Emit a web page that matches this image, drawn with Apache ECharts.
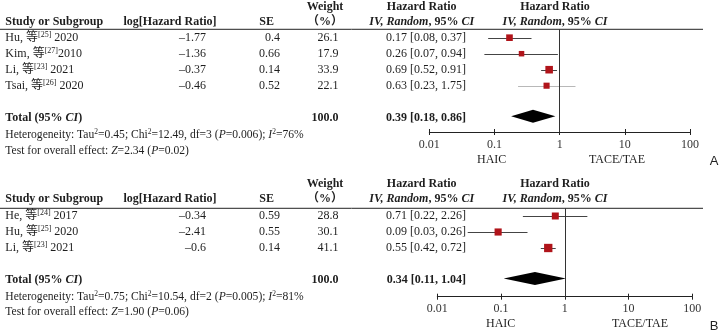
<!DOCTYPE html>
<html><head><meta charset="utf-8">
<script src="https://cdn.jsdelivr.net/npm/echarts@6/dist/echarts.min.js"></script>
<style>html,body{margin:0;padding:0;background:#fff}#c{width:719px;height:335px}</style>
</head><body><div id="c"></div>
<script>
// ---------- Panel A data ----------
const authorsA = ['Hu', 'Kim', 'Li', 'Tsai'];
const refsA = ['25', '27', '23', '26'];
const yearsA = ['2020', '2010', '2021', '2020'];
const logHRA = [-1.77, -1.36, -0.37, -0.46];
const seA = ['0.4', '0.66', '0.14', '0.52'];
const weightA = [26.1, 17.9, 33.9, 22.1];
const hrA = [0.17, 0.26, 0.69, 0.63];
const loA = [0.08, 0.07, 0.52, 0.23];
const hiA = [0.37, 0.94, 0.91, 1.75];
const totalA = [0.39, 0.18, 0.86];
const hetA = ['0.45', '12.49', '3', '0.006', '76'];
const testA = ['2.34', '0.02'];
// ---------- Panel B data ----------
const authorsB = ['He', 'Hu', 'Li'];
const refsB = ['24', '25', '23'];
const yearsB = ['2017', '2020', '2021'];
const logHRB = [-0.34, -2.41, -0.6];
const seB = ['0.59', '0.55', '0.14'];
const weightB = [28.8, 30.1, 41.1];
const hrB = [0.71, 0.09, 0.55];
const loB = [0.22, 0.03, 0.42];
const hiB = [2.26, 0.26, 0.72];
const totalB = [0.34, 0.11, 1.04];
const hetB = ['0.75', '10.54', '2', '0.005', '81'];
const testB = ['1.90', '0.06'];
// ---------- shared ----------
const tickLabels = ['0.01', '0.1', '1', '10', '100'];
const favours = ['HAIC', 'TACE/TAE'];
const panelLetters = ['A', 'B'];

const SERIF = '"Liberation Serif","Times New Roman","Noto Sans CJK SC",serif';
const TXT = '#1e1e1e';
const RED = '#b0141a';

const panels = [
  { letter: panelLetters[0], authors: authorsA, refs: refsA, years: yearsA, logHR: logHRA, se: seA, weight: weightA,
    hr: hrA, lo: loA, hi: hiA, total: totalA, het: hetA, test: testA, greyRows: [3],
    L: { gridL: 429.3, gridR: 690, lineY: 29.3, axisY: 132, row0: 37.7, h1: 6.7, h2: 21.7, het: 135, test: 150.7,
         fav: 160, favX: [491.7, 617], labMargin: 7, letterY: 161 } },
  { letter: panelLetters[1], authors: authorsB, refs: refsB, years: yearsB, logHR: logHRB, se: seB, weight: weightB,
    hr: hrB, lo: loB, hi: hiB, total: totalB, het: hetB, test: testB, greyRows: [],
    L: { gridL: 437.3, gridR: 692.3, lineY: 208.3, axisY: 296.7, row0: 216, h1: 184.3, h2: 199.3, het: 296.7, test: 312.3,
         fav: 324.3, favX: [500.7, 640], labMargin: 6.5, letterY: 326.7 } }
];
const ROWH = 16;

const richBase = {
  sup: { fontSize: 8, fontFamily: SERIF, verticalAlign: 'top', lineHeight: 9, fill: TXT },
  n: { fontSize: 12, fontFamily: SERIF, lineHeight: 14, fill: TXT },
  i: { fontSize: 12, fontFamily: SERIF, fontStyle: 'italic', lineHeight: 14, fill: TXT },
  b: { fontSize: 12, fontFamily: SERIF, fontWeight: 'bold', lineHeight: 14, fill: TXT },
  bi: { fontSize: 12, fontFamily: SERIF, fontWeight: 'bold', fontStyle: 'italic', lineHeight: 14, fill: TXT },
  s: { fontSize: 11.6, fontFamily: SERIF, lineHeight: 13, fill: TXT },
  si: { fontSize: 11.6, fontFamily: SERIF, fontStyle: 'italic', lineHeight: 13, fill: TXT },
  ssup: { fontSize: 7.5, fontFamily: SERIF, verticalAlign: 'top', lineHeight: 8, fill: TXT }
};

function txt(text, x, y, align, opts) {
  opts = opts || {};
  return {
    type: 'text', silent: true,
    style: Object.assign({
      text: text, x: x, y: y, textAlign: align || 'left', textVerticalAlign: 'middle',
      fontFamily: SERIF, fontSize: 12, fill: TXT, rich: richBase
    }, opts)
  };
}
const fmtNeg = v => (v < 0 ? '–' : '') + Math.abs(v).toString();
const fmt2 = v => v.toFixed(2);

const option = { animation: false, backgroundColor: '#fff', grid: [], xAxis: [], yAxis: [], series: [], graphic: [] };

panels.forEach((p, pi) => {
  const L = p.L;
  const ymin = -(L.row0 - L.lineY) / ROWH;
  const ymax = (L.axisY - L.row0) / ROWH;
  const totalRow = p.authors.length + 1;
  option.grid.push({ left: L.gridL, top: L.lineY, width: L.gridR - L.gridL, height: L.axisY - L.lineY, containLabel: false });
  const xBase = { type: 'log', logBase: 10, min: 0.01, max: 100, interval: 1, gridIndex: pi, position: 'bottom', splitLine: { show: false } };
  option.xAxis.push(Object.assign({}, xBase, {
    axisLine: { show: true, onZero: false, lineStyle: { color: '#222', width: 1 } },
    axisTick: { show: true, inside: false, length: 3, lineStyle: { color: '#222', width: 1 } },
    axisLabel: { show: true, margin: L.labMargin, fontFamily: SERIF, fontSize: 12, color: '#333',
      formatter: (v) => { const k = Math.round(Math.log10(v)) + 2; return tickLabels[k] || ''; } }
  }));
  option.xAxis.push(Object.assign({}, xBase, {
    axisLine: { show: false, onZero: false }, axisLabel: { show: false },
    axisTick: { show: true, inside: true, length: 3, lineStyle: { color: '#222', width: 1 } }
  }));
  option.yAxis.push({ type: 'value', gridIndex: pi, inverse: true, min: ymin, max: ymax, show: false });
  const xi = pi * 2;

  // whiskers
  option.series.push({
    type: 'custom', xAxisIndex: xi, yAxisIndex: pi, silent: true, clip: false,
    data: p.lo.map((lo, i) => [lo, p.hi[i], i, p.greyRows.indexOf(i) >= 0 ? 1 : 0]),
    renderItem: (params, api) => {
      const a = api.coord([api.value(0), api.value(2)]);
      const b = api.coord([api.value(1), api.value(2)]);
      return { type: 'line', shape: { x1: a[0], y1: Math.round(a[1]) + 0.5, x2: b[0], y2: Math.round(b[1]) + 0.5 },
        style: { stroke: api.value(3) ? '#b8b8b8' : '#444', lineWidth: 1 } };
    },
    markLine: { silent: true, symbol: 'none', label: { show: false },
      lineStyle: { color: '#333', width: 1, type: 'solid' }, data: [{ xAxis: 1 }] }
  });
  // squares
  option.series.push({
    type: 'scatter', xAxisIndex: xi, yAxisIndex: pi, silent: true, symbol: 'rect',
    data: p.hr.map((v, i) => [v, i, p.weight[i]]),
    symbolSize: (v) => 1.3 * Math.sqrt(v[2]),
    itemStyle: { color: RED, opacity: 1 }
  });
  // diamond
  option.series.push({
    type: 'custom', xAxisIndex: xi, yAxisIndex: pi, silent: true, clip: false,
    data: [[p.total[0], p.total[1], p.total[2], totalRow]],
    renderItem: (params, api) => {
      const c = api.coord([api.value(0), api.value(3)]);
      const l = api.coord([api.value(1), api.value(3)]);
      const r = api.coord([api.value(2), api.value(3)]);
      const h = 6.5, yc = c[1] - 1.5;
      return { type: 'polygon', shape: { points: [[l[0], yc], [c[0], yc - h], [r[0], yc], [c[0], yc + h]] },
        style: { fill: '#000' } };
    }
  });

  const G = option.graphic;
  // header rule
  G.push({ type: 'line', silent: true, shape: { x1: 0, y1: L.lineY, x2: 703, y2: L.lineY }, style: { stroke: '#222', lineWidth: 1 } });
  // headers
  G.push(txt('{b|Weight}', 325, L.h1, 'center'));
  G.push(txt('{b|Hazard Ratio}', 421.7, L.h1, 'center'));
  G.push(txt('{b|Hazard Ratio}', 555, L.h1, 'center'));
  G.push(txt('{b|Study or Subgroup}', 5.3, L.h2, 'left'));
  G.push(txt('{b|log[Hazard Ratio]}', 170, L.h2, 'center'));
  G.push(txt('{b|SE}', 266.7, L.h2, 'center'));
  G.push(txt('{b|（%）}', 325, L.h2, 'center'));
  G.push(txt('{bi|IV, Random}{b|, 95% }{bi|CI}', 421.7, L.h2, 'center'));
  G.push(txt('{bi|IV, Random}{b|, 95% }{bi|CI}', 555, L.h2, 'center'));
  // rows
  p.authors.forEach((a, i) => {
    const y = L.row0 + i * ROWH;
    const sp = (a === 'Kim') ? '' : ' ';
    G.push(txt('{n|' + a + ', 等}{sup|[' + p.refs[i] + ']}{n|' + sp + p.years[i] + '}', 5.3, y, 'left'));
    G.push(txt('{n|' + fmtNeg(p.logHR[i]) + '}', 206, y, 'right'));
    G.push(txt('{n|' + p.se[i] + '}', 280, y, 'right'));
    G.push(txt('{n|' + p.weight[i].toFixed(1) + '}', 338.5, y, 'right'));
    G.push(txt('{n|' + fmt2(p.hr[i]) + ' [' + fmt2(p.lo[i]) + ', ' + fmt2(p.hi[i]) + ']}', 466, y, 'right'));
  });
  const ty = L.row0 + totalRow * ROWH;
  const wsum = p.weight.reduce((s, v) => s + v, 0);
  G.push(txt('{b|Total (95% }{bi|CI}{b|)}', 5.3, ty, 'left'));
  G.push(txt('{b|' + wsum.toFixed(1) + '}', 338.5, ty, 'right'));
  G.push(txt('{b|' + fmt2(p.total[0]) + ' [' + fmt2(p.total[1]) + ', ' + fmt2(p.total[2]) + ']}', 466, ty, 'right'));
  const h = p.het;
  G.push(txt('{s|Heterogeneity: Tau}{ssup|2}{s|=' + h[0] + '; Chi}{ssup|2}{s|=' + h[1] + ', df=' + h[2] + ' (}{si|P}{s|=' + h[3] + '); }{si|I}{ssup|2}{s|=' + h[4] + '%}', 5.3, L.het, 'left'));
  G.push(txt('{s|Test for overall effect: }{si|Z}{s|=' + p.test[0] + ' (}{si|P}{s|=' + p.test[1] + ')}', 5.3, L.test, 'left'));
  // favours
  G.push(txt('{n|' + favours[0] + '}', L.favX[0], L.fav, 'center'));
  G.push(txt('{n|' + favours[1] + '}', L.favX[1], L.fav, 'center'));
  G.push({ type: 'text', silent: true, style: { text: p.letter, x: 718.5, y: L.letterY, textAlign: 'right', textVerticalAlign: 'middle',
    fontFamily: '"Liberation Sans",Arial,sans-serif', fontSize: 13, fill: '#222' } });
});

const chart = echarts.init(document.getElementById('c'), null, { renderer: 'canvas' });
chart.setOption(option);
</script>
</body></html>
